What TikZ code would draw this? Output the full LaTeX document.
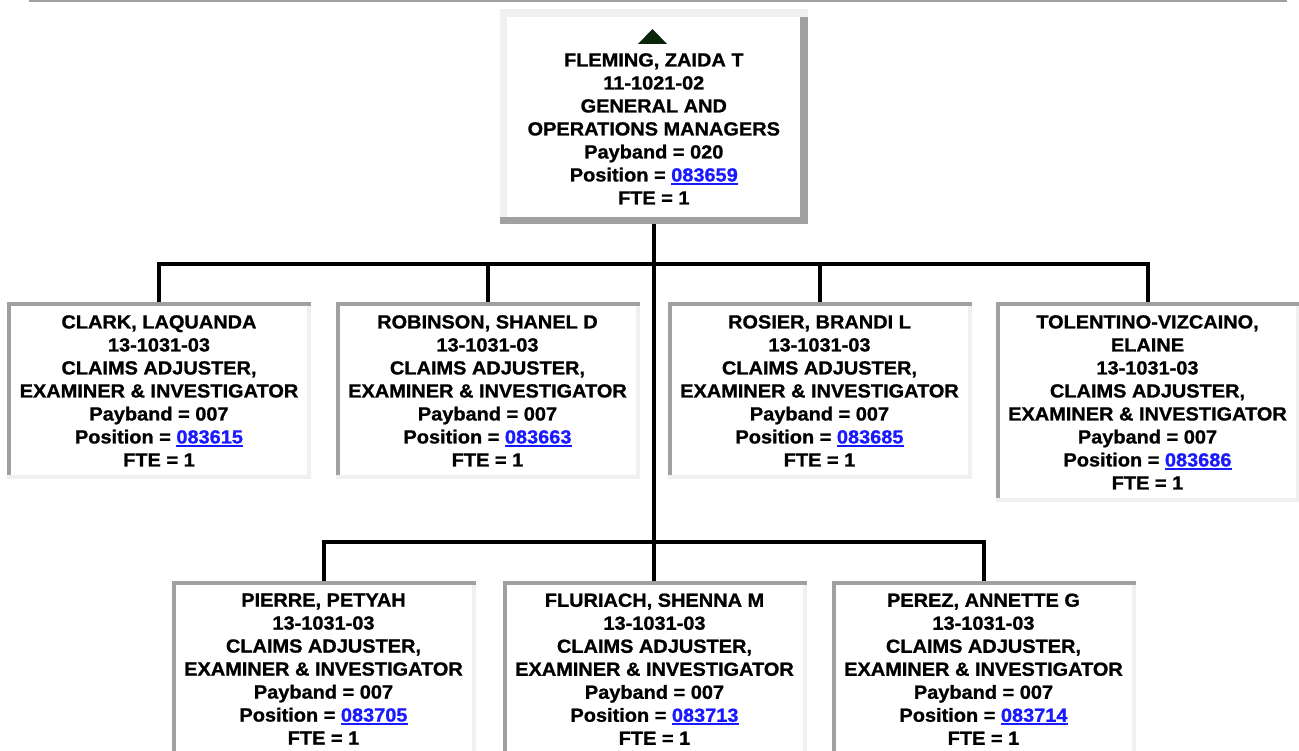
\documentclass[tikz,border=0pt]{standalone}
\usepackage{fontspec}
\newfontfamily\lab{Liberation Sans Bold}[FakeStretch=1.05,FakeBold=1]
\definecolor{dk}{HTML}{A0A0A0}
\definecolor{lt}{HTML}{F0F0F0}
\definecolor{lnk}{HTML}{1A1AFF}
\definecolor{tri}{HTML}{0A260A}
\newcommand\poslink[1]{{\color{lnk}\setbox0=\hbox{#1}\rlap{\rule[-3.2pt]{\wd0}{1.7pt}}\box0}}
\newcommand\boxbevel[4]{%
  \draw[line width=#2,#3] (#1.south west) -- (#1.north west);
  \draw[line width=#2,#4] (#1.south east) -- (#1.north east);
  \draw[line width=#2,#3,line cap=rect] (#1.north west) -- (#1.north east);
  \draw[line width=#2,#4,line cap=rect] (#1.south west) -- (#1.south east);}
\tikzset{
  cbox/.style={draw=none, fill=white, minimum width=300pt, minimum height=173pt, inner sep=0pt, outer sep=0pt},
  txt/.style={anchor=north, inner sep=0pt, outer sep=0pt, align=center, font=\lab\fontsize{19}{23}\selectfont},
  conn/.style={line width=4pt, black},
}
\begin{document}
\begin{tikzpicture}[x=1pt,y=-1pt]
\useasboundingbox (0,0) rectangle (1299,751);
\fill[white] (0,0) rectangle (1299,751);
\clip (0,0) rectangle (1299,751);
\draw[line width=2pt, dk] (29,1) -- (1287,1);
% boxes
\node[cbox, minimum width=300.3pt, minimum height=207.5pt] (top) at (653.8,116.75) {};
\node[cbox] (c1) at (159,390.5) {};
\node[cbox] (c2) at (487.5,390.5) {};
\node[cbox] (c3) at (819.5,390.5) {};
\node[cbox, minimum height=196pt] (c4) at (1147.5,402) {};
\node[cbox] (b5) at (323.5,669.5) {};
\node[cbox] (b6) at (654.5,669.5) {};
\node[cbox] (b7) at (983.5,669.5) {};
% connectors
\coordinate (bus1) at (654,264);
\coordinate (bus2) at (654,542);
\draw[conn] (top.south) -- (top.south |- b6.north);
\foreach \n in {c1,c2,c3,c4} {\draw[conn] (bus1) -| (\n.north);}
\foreach \n in {b5,b7} {\draw[conn] (bus2) -| (\n.north);}
% borders
\boxbevel{top}{7.5pt}{lt}{dk}
\foreach \n in {c1,c2,c3,c4,b5,b6,b7} {\boxbevel{\n}{4pt}{dk}{lt}}
% triangle
\fill[tri] (638,44) -- (667,44) -- (652.5,29) -- cycle;
% texts
\node[txt] (t0) at ([yshift=-40.2pt]top.north) {FLEMING, ZAIDA T\\11-1021-02\\GENERAL AND\\OPERATIONS MANAGERS\\Payband = 020\\Position = \poslink{083659}\\FTE = 1};
\node[txt] (t1) at ([yshift=-11.2pt]c1.north) {CLARK, LAQUANDA\\13-1031-03\\CLAIMS ADJUSTER,\\EXAMINER \& INVESTIGATOR\\Payband = 007\\Position = \poslink{083615}\\FTE = 1};
\node[txt] (t2) at ([yshift=-11.2pt]c2.north) {ROBINSON, SHANEL D\\13-1031-03\\CLAIMS ADJUSTER,\\EXAMINER \& INVESTIGATOR\\Payband = 007\\Position = \poslink{083663}\\FTE = 1};
\node[txt] (t3) at ([yshift=-11.2pt]c3.north) {ROSIER, BRANDI L\\13-1031-03\\CLAIMS ADJUSTER,\\EXAMINER \& INVESTIGATOR\\Payband = 007\\Position = \poslink{083685}\\FTE = 1};
\node[txt] (t4) at ([yshift=-11.2pt]c4.north) {TOLENTINO-VIZCAINO,\\ELAINE\\13-1031-03\\CLAIMS ADJUSTER,\\EXAMINER \& INVESTIGATOR\\Payband = 007\\Position = \poslink{083686}\\FTE = 1};
\node[txt] (t5) at ([yshift=-10.5pt]b5.north) {PIERRE, PETYAH\\13-1031-03\\CLAIMS ADJUSTER,\\EXAMINER \& INVESTIGATOR\\Payband = 007\\Position = \poslink{083705}\\FTE = 1};
\node[txt] (t6) at ([yshift=-10.5pt]b6.north) {FLURIACH, SHENNA M\\13-1031-03\\CLAIMS ADJUSTER,\\EXAMINER \& INVESTIGATOR\\Payband = 007\\Position = \poslink{083713}\\FTE = 1};
\node[txt] (t7) at ([yshift=-10.5pt]b7.north) {PEREZ, ANNETTE G\\13-1031-03\\CLAIMS ADJUSTER,\\EXAMINER \& INVESTIGATOR\\Payband = 007\\Position = \poslink{083714}\\FTE = 1};
\end{tikzpicture}
\end{document}
